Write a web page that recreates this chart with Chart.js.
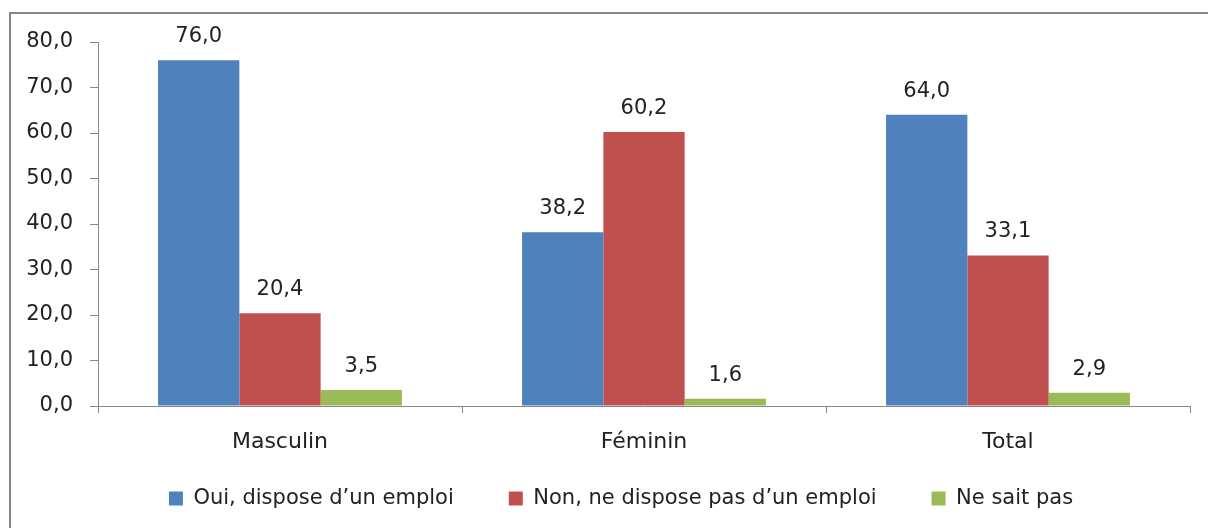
<!DOCTYPE html>
<html>
<head>
<meta charset="utf-8">
<script src="https://cdn.jsdelivr.net/npm/chart.js@4"></script>
<style>
    html, body { margin: 0; padding: 0; background: #fff; }
    #wrap { width: 1208px; height: 528px; position: relative; }
</style>
</head>
<body>
<div id="wrap"><canvas id="chart"></canvas></div>
<script>
const categories = ['Masculin', 'Féminin', 'Total'];
const seriesNames = ['Oui, dispose d\u2019un emploi', 'Non, ne dispose pas d\u2019un emploi', 'Ne sait pas'];
const ouiValues = [76.0, 38.2, 64.0];
const nonValues = [20.4, 60.2, 33.1];
const nspValues = [3.5, 1.6, 2.9];
const yTicks = [0, 10, 20, 30, 40, 50, 60, 70, 80];

const colors = ['#4F81BD', '#C0504D', '#9BBB59'];
const fmt = (v) => v.toFixed(1).replace('.', ',');
const font = 'DejaVu Sans';

// frame around the whole chart, cut by the right and bottom edges
const framePlugin = {
    id: 'frame',
    beforeDraw(chart) {
        const ctx = chart.ctx;
        ctx.save();
        ctx.strokeStyle = '#868686';
        ctx.lineWidth = 2;
        ctx.strokeRect(10, 13, 1240, 560);
        ctx.restore();
    },
};

// value labels above each bar
const valueLabels = {
    id: 'valueLabels',
    afterDatasetsDraw(chart) {
        const ctx = chart.ctx;
        ctx.save();
        ctx.font = '21px "' + font + '"';
        ctx.fillStyle = '#222';
        ctx.textAlign = 'center';
        ctx.textBaseline = 'alphabetic';
        chart.data.datasets.forEach((ds, i) => {
            chart.getDatasetMeta(i).data.forEach((bar, j) => {
                ctx.fillText(fmt(ds.data[j]), bar.x, bar.y - 18);
            });
        });
        ctx.restore();
    },
};

// fixed legend box: height sets the plot bottom, then move it up/right a bit
const legendPlace = {
    id: 'legendPlace',
    beforeInit(chart) {
        const fit = chart.legend.fit;
        chart.legend.fit = function () {
            fit.call(this);
            this.height = 72;
        };
    },
    afterLayout(chart) {
        const lg = chart.legend;
        lg.left = 52;
        lg.right = 1190;
        lg.width = lg.right - lg.left;
        lg.top = 433;
        lg.bottom = 528;
        lg.height = lg.bottom - lg.top;
    },
};

new Chart(document.getElementById('chart'), {
    type: 'bar',
    data: {
        labels: categories,
        datasets: [
            { label: seriesNames[0], data: ouiValues, backgroundColor: colors[0] },
            { label: seriesNames[1], data: nonValues, backgroundColor: colors[1] },
            { label: seriesNames[2], data: nspValues, backgroundColor: colors[2] },
        ],
    },
    options: {
        responsive: true,
        maintainAspectRatio: false,
        animation: false,
        layout: {
            padding: { left: 0, top: 42, right: 18, bottom: 0 },
        },
        datasets: {
            bar: { barPercentage: 1, categoryPercentage: 0.67 },
        },
        plugins: {
            legend: {
                position: 'bottom',
                labels: {
                    boxWidth: 14,
                    boxHeight: 14,
                    padding: 55,
                    color: '#222',
                    font: { family: font, size: 21 },
                },
            },
            tooltip: { enabled: false },
        },
        scales: {
            x: {
                offset: true,
                grid: {
                    offset: true,
                    drawOnChartArea: false,
                    drawTicks: true,
                    tickLength: 7,
                    color: '#868686',
                },
                border: { color: '#868686', width: 1 },
                ticks: {
                    color: '#222',
                    padding: 16,
                    font: { family: font, size: 22 },
                },
                afterFit: (s) => { s.height = 50; },
            },
            y: {
                min: 0,
                max: 80,
                afterBuildTicks: (s) => { s.ticks = yTicks.map((v) => ({ value: v })); },
                grid: {
                    drawOnChartArea: false,
                    drawTicks: true,
                    tickLength: 8,
                    color: '#868686',
                },
                border: { color: '#868686', width: 1 },
                ticks: {
                    color: '#222',
                    padding: 17,
                    font: { family: font, size: 21 },
                    callback: (v) => fmt(v),
                },
                afterFit: (s) => { s.width = 98; },
            },
        },
    },
    plugins: [framePlugin, valueLabels, legendPlace],
});
</script>
</body>
</html>
